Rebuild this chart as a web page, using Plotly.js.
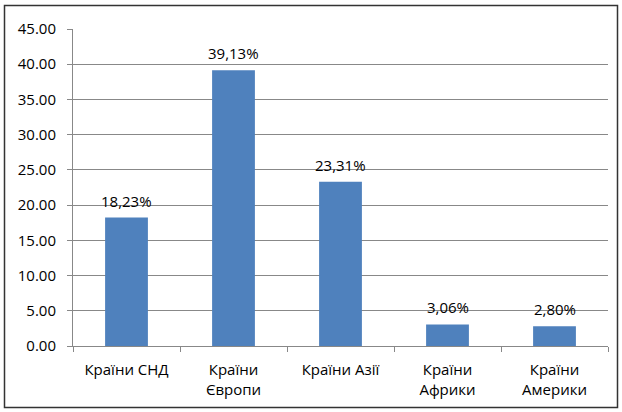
<!DOCTYPE html>
<html><head><meta charset="utf-8">
<script src="https://cdn.plot.ly/plotly-3.0.1.min.js"></script>
<style>html,body{margin:0;padding:0;background:#fff;}#chart{width:622px;height:412px;}</style>
</head><body><div id="chart"></div>
<script>
const categories = ["Країни СНД", "Країни<br>Європи", "Країни Азії", "Країни<br>Африки", "Країни<br>Америки"];
const values = [18.23, 39.13, 23.31, 3.06, 2.80];
const labels = values.map(v => v.toFixed(2).replace('.', ',') + '%');
const yTicks = [0, 5, 10, 15, 20, 25, 30, 35, 40, 45];

const font = {family: 'Open Sans, DejaVu Sans, sans-serif', size: 15, color: '#000'};
const labelFont = {family: 'Open Sans, DejaVu Sans, sans-serif', size: 15, color: '#000'};

const annotations = categories.map((c, i) => ({
  x: c, y: values[i], xref: 'x', yref: 'y', text: labels[i],
  showarrow: false, yanchor: 'bottom', yshift: 5, font: labelFont
}));

Plotly.newPlot('chart', [{
  type: 'bar', x: categories, y: values,
  marker: {color: '#4F81BD', line: {width: 0}},
  hoverinfo: 'none'
}], {
  width: 622, height: 412,
  margin: {l: 73, r: 14, t: 29, b: 66},
  paper_bgcolor: '#fff', plot_bgcolor: '#fff',
  font: font, bargap: 0.6, showlegend: false,
  annotations: annotations,
  xaxis: {type: 'category', showline: true, linecolor: '#888', linewidth: 1,
    ticks: 'outside', tickson: 'boundaries', ticklen: 5, tickcolor: '#888',
    showgrid: false, tickfont: font, ticklabelstandoff: 10, fixedrange: true},
  yaxis: {range: [0, 45], tickvals: yTicks, tickformat: '.2f', showline: true,
    linecolor: '#888', linewidth: 1, ticks: 'outside', ticklen: 5, tickcolor: '#888',
    gridcolor: '#888', gridwidth: 1, zeroline: false, tickfont: font,
    ticklabelstandoff: 8, fixedrange: true},
  shapes: [{type: 'rect', xref: 'paper', yref: 'paper',
    x0: (4.5 - 73) / 535, x1: (617.5 - 73) / 535,
    y0: (346 - 407.5) / 317, y1: (346 - 5.5) / 317,
    line: {color: '#333', width: 1.5}, fillcolor: 'rgba(0,0,0,0)', layer: 'above'}]
}, {staticPlot: true});
</script></body></html>
